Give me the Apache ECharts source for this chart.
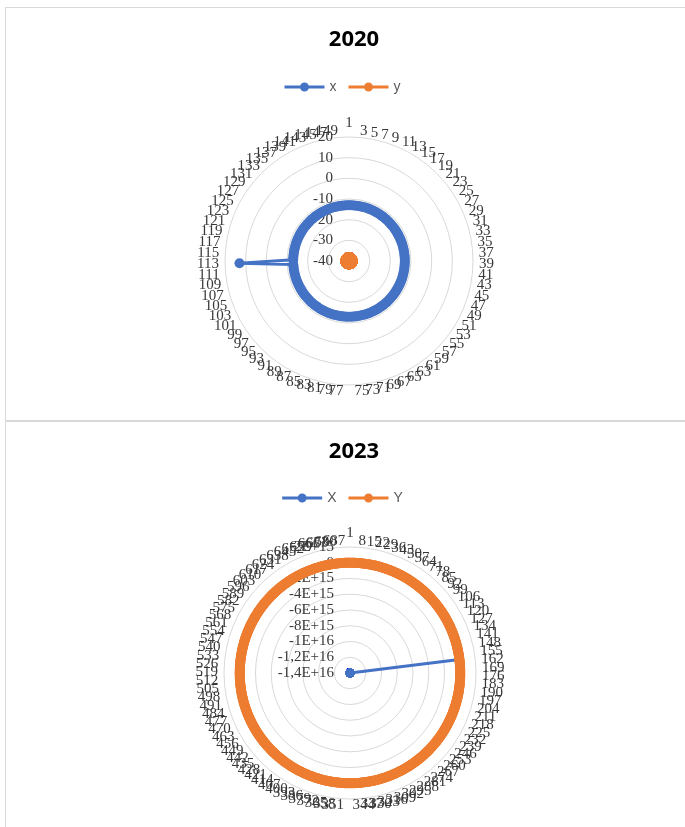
<!DOCTYPE html>
<html><head><meta charset="utf-8">
<script src="https://cdn.jsdelivr.net/npm/echarts@6/dist/echarts.min.js"></script>
<style>html,body{margin:0;padding:0;background:#fff}#c{width:685px;height:827px}</style>
</head><body><div id="c"></div>
<script>
// ---- data ----
const count2020 = 150;          // categories 1..150
const count2023 = 690;          // categories 1..690
const labelStep2020 = 2;        // every 2nd category label shown
const labelStep2023 = 7;        // every 7th category label shown
const ticks2020 = ['-40', '-30', '-20', '-10', '0', '10', '20'];
const ticks2023 = ['-1,4E+16', '-1,2E+16', '-1E+16', '-8E+15', '-6E+15', '-4E+15', '-2E+15', '0', '2E+15'];
const range2020 = [-40, 20];
const range2023 = [-1.4e16, 2e15];
// series as runs: [value, number of consecutive categories]
const x2020Runs = [[-13, 112], [13, 1], [-13, 37]];
const y2020Runs = [[-40, 150]];
const x2023Runs = [[-1.4e16, 159], [0, 1], [-1.4e16, 530]];
const y2023Runs = [[0, 690]];
const names2020 = ['x', 'y'];
const names2023 = ['X', 'Y'];

// ---- build ----
function expand(runs) { const out = []; runs.forEach(([v, n]) => { for (let i = 0; i < n; i++) out.push(v); }); return out; }
function clockwiseOrder(n) { const o = [0]; for (let i = n - 1; i >= 1; i--) o.push(i); return o; }
function reorder(arr) { return clockwiseOrder(arr.length).map(k => arr[k]); }

const BLUE = '#4472c4', ORANGE = '#ed7d31';
const serif = 'Liberation Serif';
const labelColor = '#383838';

function makeRadar(count, step, range, ticks, center, radius) {
  const interval = (range[1] - range[0]) / (ticks.length - 1);
  const indicator = clockwiseOrder(count).map((k, j) => {
    const o = { name: (k % step === 0) ? String(k + 1) : '', min: range[0], max: range[1] };
    if (j > 0) o.axisLabel = { show: false };
    return o;
  });
  return {
    center: center, radius: radius, startAngle: 90, shape: 'circle',
    splitNumber: ticks.length - 1,
    indicator: indicator,
    axisName: { color: labelColor, fontFamily: serif, fontSize: 15 },
    nameGap: 6,
    axisLine: { show: false }, axisTick: { show: false },
    axisLabel: {
      show: true, showMinLabel: true, showMaxLabel: true, margin: 16,
      color: labelColor, fontFamily: serif, fontSize: 15,
      formatter: v => ticks[Math.round((v - range[0]) / interval)]
    },
    splitLine: { lineStyle: { color: '#d9d9d9', width: 1 } },
    splitArea: { show: false }
  };
}

function radarSeries(radarIndex, name, runs, color, symbolSize) {
  return {
    type: 'radar', radarIndex: radarIndex, name: name,
    symbol: 'circle', symbolSize: symbolSize,
    lineStyle: { width: 3, color: color },
    itemStyle: { color: color },
    data: [{ name: name, value: reorder(expand(runs)), symbol: 'circle', symbolSize: symbolSize, lineStyle: { width: 3, color: color }, itemStyle: { color: color } }]
  };
}

const legendIcon = 'path://M0,3.6H15.7V6.4H0Z M24.3,3.6H40V6.4H24.3Z M24.5,5A4.5,4.5,0,1,1,15.5,5A4.5,4.5,0,1,1,24.5,5Z';
function legend(names, top) {
  return {
    data: names, top: top, left: 'center', itemWidth: 40, itemHeight: 10, itemGap: 12,
    icon: legendIcon,
    textStyle: { color: '#595959', fontSize: 14, fontFamily: 'Liberation Sans' }
  };
}
const titleStyle = { fontSize: 22, fontWeight: 'bold', color: '#000', fontFamily: 'Noto Sans' };

const chart = echarts.init(document.getElementById('c'));
chart.setOption({
  animation: false,
  backgroundColor: '#fff',
  graphic: [
    { type: 'line', shape: { x1: 5, y1: 7.5, x2: 685, y2: 7.5 }, style: { stroke: '#d9d9d9', lineWidth: 1 } },
    { type: 'line', shape: { x1: 5.5, y1: 7, x2: 5.5, y2: 827 }, style: { stroke: '#d9d9d9', lineWidth: 1 } },
    { type: 'line', shape: { x1: 5, y1: 421, x2: 685, y2: 421 }, style: { stroke: '#d9d9d9', lineWidth: 2 } }
  ],
  title: [
    { text: '2020', left: 349, top: 24, textAlign: 'center', textStyle: titleStyle },
    { text: '2023', left: 349, top: 436, textAlign: 'center', textStyle: titleStyle }
  ],
  legend: [legend(names2020, 75), legend(names2023, 486)],
  radar: [
    makeRadar(count2020, labelStep2020, range2020, ticks2020, [349, 261], 124),
    makeRadar(count2023, labelStep2023, range2023, ticks2023, [350, 673], 126)
  ],
  series: [
    radarSeries(0, names2020[0], x2020Runs, BLUE, 10),
    radarSeries(0, names2020[1], y2020Runs, ORANGE, 17),
    radarSeries(1, names2023[0], x2023Runs, BLUE, 9),
    radarSeries(1, names2023[1], y2023Runs, ORANGE, 10)
  ]
});
</script>
</body></html>
